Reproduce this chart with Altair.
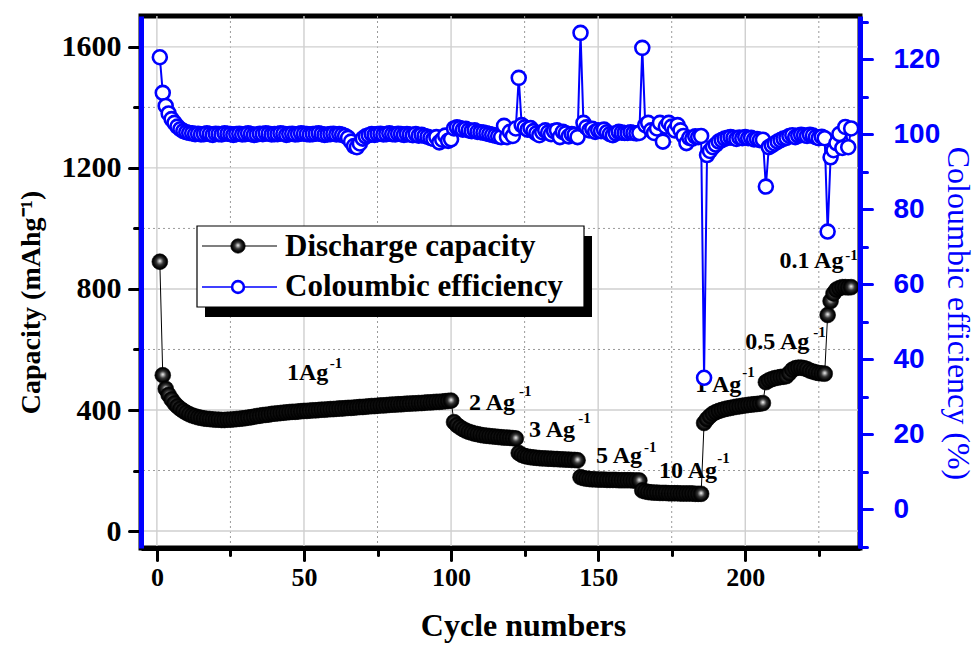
import altair as alt
import pandas as pd

# ---------------- data ----------------
cap_1A = [890, 515, 470, 450, 435, 422, 412, 404, 397, 391,
          386, 382, 379, 376, 374, 372, 371, 370, 369, 368,
          368, 367, 367, 368, 368, 369, 370, 371, 372, 373,
          375, 376, 378, 380, 381, 383, 384, 385, 387, 388,
          389, 390, 391, 392, 393, 394, 394, 395, 396, 397,
          397, 398, 399, 399, 400, 401, 401, 402, 403, 403,
          404, 405, 405, 406, 407, 407, 408, 409, 410, 410,
          411, 412, 413, 413, 414, 415, 415, 416, 417, 418,
          418, 419, 419, 420, 421, 421, 422, 422, 423, 423,
          424, 425, 425, 426, 427, 427, 428, 429, 430, 431]
cap_2A = [360, 350, 343, 337, 332, 328, 325, 322, 320, 318, 316,
          315, 314, 313, 312, 311, 310, 309, 309, 308, 307, 306]
cap_3A = [258, 252, 248, 246, 244, 243, 242, 241, 240, 240, 239,
          239, 238, 238, 237, 237, 236, 236, 235, 235, 234]
cap_5A = [178, 175, 173, 172, 171, 171, 170, 170, 170, 169, 169,
          169, 169, 168, 168, 168, 168, 168, 167, 167, 167]
cap_10A = [134, 131, 129, 128, 127, 127, 126, 126, 126, 125, 125,
           125, 125, 124, 124, 124, 124, 124, 123, 123, 123]
cap_1A_b = [357, 370, 380, 388, 393, 397, 400, 403, 405, 407, 409,
            411, 412, 414, 415, 417, 418, 419, 420, 421, 423]
cap_05A = [492, 498, 502, 505, 507, 509, 510, 512, 522, 533, 538,
           540, 540, 538, 535, 530, 527, 524, 522, 521, 520]
cap_01A = [714, 760, 785, 798, 803, 806, 806, 805, 806]

ce_1A = [120.5, 111.0, 107.5, 105.5, 104.0, 103.0, 102.0, 101.3, 100.8, 100.5,
         100.3, 100.2, 100.0, 100.1, 99.9, 100.0, 100.2, 100.0, 99.8, 100.1,
         100.0, 99.9, 100.2, 100.1, 100.0, 99.8, 100.0, 100.1, 99.9, 100.0,
         100.2, 100.0, 99.8, 99.9, 100.1, 100.0, 100.2, 100.1, 99.9, 100.0,
         100.0, 100.2, 100.1, 99.8, 100.0, 100.1, 99.9, 100.0, 100.2, 100.1,
         100.0, 99.9, 100.0, 100.1, 100.2, 100.0, 99.8, 99.9, 100.0, 100.1,
         99.9, 100.0, 99.8, 99.5, 99.0, 98.0, 96.8, 96.5, 97.5, 98.8,
         99.4, 99.7, 100.0, 99.8, 100.0, 100.1, 99.9, 100.0, 100.2, 100.0,
         99.9, 100.1, 100.0, 99.8, 100.0, 99.9, 99.7, 100.0, 99.6, 99.8,
         99.5, 99.3, 99.0, 98.7, 99.2, 97.8, 98.5, 99.6, 98.2, 98.6]
ce_2A = [101.5, 101.8, 101.6, 101.2, 101.4, 101.0, 100.8, 101.0, 100.6, 100.5, 100.4,
         100.2, 100.0, 99.8, 99.6, 99.4, 99.2, 102.2, 99.2, 100.6, 99.5, 101.5]
ce_3A = [115.0, 102.4, 101.8, 101.2, 101.6, 100.8, 100.2, 99.7, 100.5, 101.0, 100.4,
         100.0, 100.8, 101.0, 99.2, 100.6, 100.2, 99.4, 100.0, 99.8, 99.2]
ce_5A = [127.0, 103.0, 101.8, 101.0, 101.4, 100.6, 101.0, 100.8, 101.2, 100.5, 100.0,
         99.7, 100.2, 100.6, 100.4, 100.3, 100.3, 100.5, 100.3, 100.2, 100.3]
ce_10A = [123.0, 102.4, 103.0, 101.0, 100.3, 101.5, 103.0, 98.0, 102.0, 103.0, 102.0,
          101.0, 102.4, 101.0, 99.5, 97.6, 99.0, 98.8, 99.4, 99.2, 99.5]
ce_1A_b = [35.0, 94.4, 95.5, 96.5, 97.2, 98.0, 98.4, 98.8, 99.0, 99.2, 99.0,
           98.7, 99.1, 98.9, 99.2, 98.9, 99.0, 98.6, 98.7, 98.4, 98.5]
ce_05A = [86.0, 96.5, 97.0, 97.5, 98.0, 98.4, 98.8, 99.0, 99.5, 99.7, 99.2,
          99.6, 99.8, 99.7, 99.5, 99.8, 99.6, 99.2, 98.9, 99.3, 98.9]
ce_01A = [74.0, 93.8, 95.7, 97.6, 100.0, 96.3, 101.9, 96.5, 101.5]

# rate annotations (position in data units: cycle, capacity)
ann_text = ["1Ag", "2 Ag", "3 Ag", "5 Ag", "10 Ag", "1 Ag", "0.5 Ag", "0.1 Ag"]
ann_x = [44.2, 106.1, 126.5, 149.3, 170.7, 183.0, 200.0, 211.6]
ann_y = [499, 400, 311, 225, 175, 460, 602, 869]
sup_text = ["-1"] * 8
sup_x = [58.8, 123.1, 143.2, 165.6, 190.5, 199.0, 223.1, 234.0]
sup_y = [539, 446, 357, 261, 225, 509, 641, 896]

# ticks / grid
x_ticks = [0, 25, 50, 75, 100, 125, 150, 175, 200, 225]
x_grid_major = [0, 50, 100, 150, 200]
x_grid_minor = [25, 75, 125, 175, 225]
yl_ticks = [0, 200, 400, 600, 800, 1000, 1200, 1400, 1600]
y_grid_major = [0, 400, 800, 1200, 1600]
y_grid_minor = [200, 600, 1000, 1400]
yr_ticks = [-10, 0, 10, 20, 30, 40, 50, 60, 70, 80, 90, 100, 110, 120, 130]

legend_labels = ["Discharge capacity", "Coloumbic efficiency"]

# ---------------- tables ----------------
cap = cap_1A + cap_2A + cap_3A + cap_5A + cap_10A + cap_1A_b + cap_05A + cap_01A
ce = ce_1A + ce_2A + ce_3A + ce_5A + ce_10A + ce_1A_b + ce_05A + ce_01A
df = pd.DataFrame({"cycle": list(range(1, len(cap) + 1)), "cap": cap, "ce": ce})
ann = pd.DataFrame({"x": ann_x, "y": ann_y, "t": ann_text})
sup = pd.DataFrame({"x": sup_x, "y": sup_y, "t": sup_text})

BLUE = "#0000ff"
SERIF = "Liberation Serif"
SANS = "Liberation Sans"
W, H = 719, 532

x_scale = alt.Scale(domain=[-5.4, 239], nice=False, zero=False)
yl_scale = alt.Scale(domain=[-56, 1702], nice=False, zero=False)
yr_scale = alt.Scale(domain=[-10.4, 131.5], nice=False, zero=False)


def is_major(step):
    return f"datum.value % {step} === 0"


x_axis = alt.Axis(
    values=x_ticks, format="d", labelExpr=f"{is_major(50)} ? datum.label : ''",
    title="Cycle numbers", grid=False,
    domainColor="black", domainWidth=5,
    tickColor="black", tickWidth=3, tickCap="round",
    tickSize={"condition": {"test": is_major(50), "value": 12}, "value": 7},
    labelFont=SERIF, labelFontSize=26, labelFontWeight="bold", labelColor="black",
    labelPadding=4, labelFlush=False, labelOverlap=False,
    titleFont=SERIF, titleFontSize=32, titleFontWeight="bold", titleColor="black",
    titleX=382, titleY=87, titleAlign="center", titleBaseline="alphabetic", zindex=1,
)
yl_axis = alt.Axis(
    values=yl_ticks, format="d", labelExpr=f"{is_major(400)} ? datum.label : ''",
    title="Capacity (mAhg⁻¹)", grid=False, orient="left",
    domainColor=BLUE, domainWidth=5,
    tickColor="black", tickWidth=3, tickCap="round",
    tickSize={"condition": {"test": is_major(400), "value": 12}, "value": 7},
    labelFont=SERIF, labelFontSize=30, labelFontWeight="bold", labelColor="black",
    labelPadding=8, labelFlush=False, labelOverlap=False,
    titleFont=SERIF, titleFontSize=28, titleFontWeight="bold", titleColor="black",
    titleAngle=270, titleX=-110, titleY=286, titleAlign="center", titleBaseline="middle",
    zindex=1,
)
yr_axis = alt.Axis(
    values=yr_ticks, format="d", labelExpr=f"{is_major(20)} ? datum.label : ''",
    title="Coloumbic efficiency (%)", grid=False, orient="right",
    domainColor=BLUE, domainWidth=5,
    tickColor=BLUE, tickWidth=3, tickCap="round",
    tickSize={"condition": {"test": is_major(20), "value": 12}, "value": 7},
    labelFont=SANS, labelFontSize=28, labelFontWeight="bold", labelColor=BLUE,
    labelPadding=21, labelFlush=False, labelOverlap=False,
    titleFont=SERIF, titleFontSize=32, titleFontWeight="normal", titleColor=BLUE,
    titleAngle=90, titleX=97, titleY=297, titleAlign="center", titleBaseline="middle",
    zindex=1,
)

sphere = {
    "gradient": "radial",
    "x1": 0.5, "y1": 0.45, "r1": 0,
    "x2": 0.5, "y2": 0.5, "r2": 0.5,
    "stops": [
        {"offset": 0.0, "color": "#ffffff"},
        {"offset": 0.16, "color": "#b0b0b0"},
        {"offset": 0.45, "color": "#353535"},
        {"offset": 0.8, "color": "#060606"},
        {"offset": 1.0, "color": "#000000"},
    ],
}

# ---------------- grid ----------------
gx_major = alt.Chart(pd.DataFrame({"g": x_grid_major})).mark_rule(
    color="#cfcfcf", strokeWidth=1.4).encode(x=alt.X("g:Q", scale=x_scale, axis=x_axis))
gx_minor = alt.Chart(pd.DataFrame({"g": x_grid_minor})).mark_rule(
    color="#9a9a9a", strokeWidth=1, strokeDash=[2, 3]).encode(x=alt.X("g:Q", scale=x_scale, axis=x_axis))
gy_major = alt.Chart(pd.DataFrame({"g": y_grid_major})).mark_rule(
    color="#cfcfcf", strokeWidth=1.4).encode(y=alt.Y("g:Q", scale=yl_scale, axis=yl_axis))
gy_minor = alt.Chart(pd.DataFrame({"g": y_grid_minor})).mark_rule(
    color="#9a9a9a", strokeWidth=1, strokeDash=[2, 3]).encode(y=alt.Y("g:Q", scale=yl_scale, axis=yl_axis))

# ---------------- capacity ----------------
base = alt.Chart(df)
cap_line = base.mark_line(color="black", strokeWidth=1).encode(
    x=alt.X("cycle:Q", scale=x_scale, axis=x_axis),
    y=alt.Y("cap:Q", scale=yl_scale, axis=yl_axis),
)
cap_pts = base.mark_point(shape="circle", filled=True, fill=sphere, stroke="#000000",
                          strokeWidth=0.6, size=250, opacity=1).encode(
    x=alt.X("cycle:Q", scale=x_scale, axis=x_axis),
    y=alt.Y("cap:Q", scale=yl_scale, axis=yl_axis),
)
ann_txt = alt.Chart(ann).mark_text(align="left", baseline="alphabetic", font=SERIF,
                                   fontWeight="bold", fontSize=24, color="black").encode(
    x=alt.X("x:Q", scale=x_scale, axis=x_axis),
    y=alt.Y("y:Q", scale=yl_scale, axis=yl_axis),
    text="t:N",
)
sup_txt = alt.Chart(sup).mark_text(align="left", baseline="alphabetic", font=SERIF,
                                   fontWeight="bold", fontSize=15, color="black").encode(
    x=alt.X("x:Q", scale=x_scale, axis=x_axis),
    y=alt.Y("y:Q", scale=yl_scale, axis=yl_axis),
    text="t:N",
)
left = alt.layer(gx_major, gx_minor, gy_major, gy_minor, cap_line, cap_pts, ann_txt, sup_txt)

# ---------------- coulombic efficiency ----------------
ce_line = base.mark_line(color=BLUE, strokeWidth=2).encode(
    x=alt.X("cycle:Q", scale=x_scale, axis=x_axis),
    y=alt.Y("ce:Q", scale=yr_scale, axis=yr_axis),
)
ce_pts = base.mark_point(shape="circle", filled=True, fill="white", stroke=BLUE,
                         strokeWidth=2.6, size=195, opacity=1).encode(
    x=alt.X("cycle:Q", scale=x_scale, axis=x_axis),
    y=alt.Y("ce:Q", scale=yr_scale, axis=yr_axis),
)
right = alt.layer(ce_line, ce_pts)

# ---------------- legend (drawn box with shadow) ----------------
one = pd.DataFrame({"k": [0]})
leg_shadow = alt.Chart(one).mark_rect(fill="black").encode(
    x=alt.value(64), x2=alt.value(451), y=alt.value(220), y2=alt.value(301))
leg_box = alt.Chart(one).mark_rect(fill="white", stroke="black", strokeWidth=1.2).encode(
    x=alt.value(56), x2=alt.value(443), y=alt.value(210), y2=alt.value(291))
leg_l1 = alt.Chart(one).mark_rule(color="black", strokeWidth=1.2).encode(
    x=alt.value(61), x2=alt.value(136), y=alt.value(230))
leg_l2 = alt.Chart(one).mark_rule(color=BLUE, strokeWidth=1.6).encode(
    x=alt.value(61), x2=alt.value(136), y=alt.value(271))
leg_p1 = alt.Chart(one).mark_point(shape="circle", filled=True, fill=sphere, stroke="#000000",
                                   strokeWidth=0.6, size=210, opacity=1).encode(
    x=alt.value(97), y=alt.value(230))
leg_p2 = alt.Chart(one).mark_point(shape="circle", filled=True, fill="white", stroke=BLUE,
                                   strokeWidth=2.6, size=140, opacity=1).encode(
    x=alt.value(97), y=alt.value(271))
leg_t1 = alt.Chart(pd.DataFrame({"t": [legend_labels[0]]})).mark_text(
    align="left", baseline="alphabetic", font=SERIF, fontWeight="bold", fontSize=31,
    color="black").encode(x=alt.value(144), y=alt.value(240), text="t:N")
leg_t2 = alt.Chart(pd.DataFrame({"t": [legend_labels[1]]})).mark_text(
    align="left", baseline="alphabetic", font=SERIF, fontWeight="bold", fontSize=31,
    color="black").encode(x=alt.value(144), y=alt.value(280), text="t:N")
legend = alt.layer(leg_shadow, leg_box, leg_l1, leg_l2, leg_p1, leg_p2, leg_t1, leg_t2)

chart = alt.layer(left, right, legend).resolve_scale(y="independent").properties(
    width=W, height=H,
    padding={"left": 141, "top": 16, "right": 117, "bottom": 97},
    autosize=alt.AutoSizeParams(type="none"),
    background="white",
).configure_view(stroke="black", strokeWidth=5)

chart.save("out.html", embed_options={"renderer": "svg", "actions": False})
